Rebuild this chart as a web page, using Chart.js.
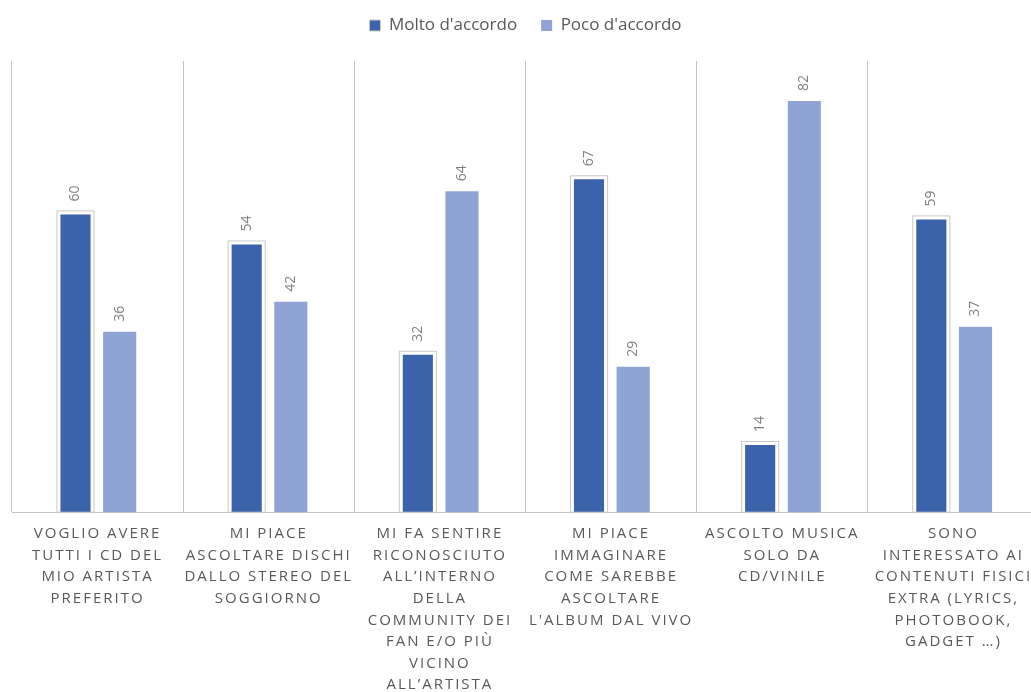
<!DOCTYPE html>
<html>
<head>
<meta charset="utf-8">
<script src="https://cdn.jsdelivr.net/npm/chart.js@4.4.1/dist/chart.umd.min.js"></script>
<style>
  html, body { margin: 0; padding: 0; background: #ffffff; overflow: hidden; width: 1031px; height: 692px; }
  #wrap { position: relative; width: 1039px; height: 707px; }
</style>
</head>
<body>
<div id="wrap"><canvas id="c" width="1039" height="707"></canvas></div>
<script>
// ---- data ----
const categories = [
  ["VOGLIO AVERE", "TUTTI I CD DEL", "MIO ARTISTA", "PREFERITO"],
  ["MI PIACE", "ASCOLTARE DISCHI", "DALLO STEREO DEL", "SOGGIORNO"],
  ["MI FA SENTIRE", "RICONOSCIUTO", "ALL\u2019INTERNO", "DELLA", "COMMUNITY DEI", "FAN E/O PI\u00d9", "VICINO", "ALL\u2019ARTISTA"],
  ["MI PIACE", "IMMAGINARE", "COME SAREBBE", "ASCOLTARE", "L'ALBUM DAL VIVO"],
  ["ASCOLTO MUSICA", "SOLO DA", "CD/VINILE"],
  ["SONO", "INTERESSATO AI", "CONTENUTI FISICI", "EXTRA (LYRICS,", "PHOTOBOOK,", "GADGET \u2026)"]
];
const seriesNames = ["Molto d'accordo", "Poco d'accordo"];
const molto = [60, 54, 32, 67, 14, 59];
const poco = [36, 42, 64, 29, 82, 37];
const yMin = 0;
const yMax = 90;

// ---- styles ----
const DARK = '#3B63AC';
const LIGHT = '#8FA3D5';
const OUTLINE = '#c9c9c9';
const GRID = '#c4c4c4';
const TEXT = '#595959';
const VALUE_TEXT = '#7f7f7f';
const LEGEND_BLOCK = 61;   // height reserved above plot
const LEGEND_SHIFT = -7;   // move legend row up

const legendPlacement = {
  id: 'legendPlacement',
  beforeInit(chart) {
    const lg = chart.legend;
    if (lg) {
      const fit = lg.fit;
      lg.fit = function () { fit.call(this); this.height = LEGEND_BLOCK; };
    }
  },
  afterLayout(chart) {
    if (chart.legend) chart.legend.top += LEGEND_SHIFT;
    const s = chart.scales.x;
    if (s && !s.__ls) {
      const orig = s.drawLabels;
      s.drawLabels = function (ca) {
        const ctx = this.ctx;
        ctx.save();
        ctx.letterSpacing = '2px';
        orig.call(this, ca);
        ctx.restore();
      };
      s.__ls = true;
    }
  }
};

const barDecor = {
  id: 'barDecor',
  afterDatasetsDraw(chart) {
    const ctx = chart.ctx;
    // outline around first-series bars
    const meta0 = chart.getDatasetMeta(0);
    ctx.save();
    ctx.strokeStyle = OUTLINE;
    ctx.lineWidth = 1;
    meta0.data.forEach(bar => {
      const p = bar.getProps(['x', 'y', 'base', 'width'], true);
      ctx.strokeRect(p.x - p.width / 2 - 0.5, p.y - 0.5, p.width + 1, p.base - p.y + 0.5);
    });
    ctx.restore();
    // value labels (rotated)
    chart.data.datasets.forEach((ds, di) => {
      const meta = chart.getDatasetMeta(di);
      meta.data.forEach((bar, i) => {
        const p = bar.getProps(['x', 'y'], true);
        ctx.save();
        ctx.translate(p.x, p.y - 10);
        ctx.rotate(-Math.PI / 2);
        ctx.font = "14px 'Open Sans', sans-serif";
        ctx.fillStyle = VALUE_TEXT;
        ctx.textAlign = 'left';
        ctx.textBaseline = 'middle';
        ctx.fillText(String(ds.data[i]), 0, 0);
        ctx.restore();
      });
    });
  }
};

new Chart(document.getElementById('c'), {
  type: 'bar',
  data: {
    labels: categories,
    datasets: [
      {
        label: seriesNames[0],
        data: molto,
        backgroundColor: DARK,
        borderColor: '#ffffff',
        borderWidth: 3,
        barPercentage: 0.818,
        categoryPercentage: 0.516
      },
      {
        label: seriesNames[1],
        data: poco,
        backgroundColor: LIGHT,
        borderWidth: 0,
        barPercentage: 0.75,
        categoryPercentage: 0.516
      }
    ]
  },
  options: {
    responsive: false,
    devicePixelRatio: 1,
    animation: false,
    layout: { padding: { left: 12, right: 0, top: 0, bottom: 0 } },
    plugins: {
      tooltip: { enabled: false },
      legend: {
        display: true,
        position: 'top',
        align: 'center',
        labels: {
          boxWidth: 11,
          boxHeight: 11,
          padding: 24,
          color: TEXT,
          font: { family: "'Open Sans', sans-serif", size: 17 },
          generateLabels: (chart) => chart.data.datasets.map((d, i) => ({
            text: d.label,
            fillStyle: d.backgroundColor,
            strokeStyle: i === 0 ? OUTLINE : d.backgroundColor,
            lineWidth: i === 0 ? 1 : 0,
            fontColor: TEXT,
            hidden: false,
            datasetIndex: i
          }))
        }
      }
    },
    scales: {
      x: {
        offset: true,
        grid: { offset: true, drawOnChartArea: true, drawTicks: false, color: GRID, lineWidth: 1 },
        border: { display: true, color: GRID, width: 1 },
        ticks: {
          autoSkip: false,
          maxRotation: 0,
          minRotation: 0,
          padding: 11,
          color: TEXT,
          font: { family: "'Open Sans', sans-serif", size: 15, lineHeight: 1.44 }
        }
      },
      y: {
        display: false,
        min: yMin,
        max: yMax
      }
    }
  },
  plugins: [legendPlacement, barDecor]
});
</script>
</body>
</html>
